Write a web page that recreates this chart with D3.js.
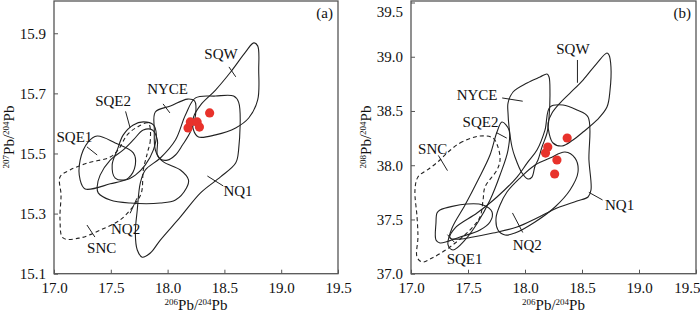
<!DOCTYPE html>
<html>
<head>
<meta charset="utf-8">
<script src="https://cdn.jsdelivr.net/npm/d3@7"></script>
<style>
  body { margin: 0; background: #fff; }
  svg { display: block; font-family: "Liberation Serif", "Times New Roman", serif; }
</style>
</head>
<body>
<svg id="chart" width="700" height="314"></svg>
<script>
// ---- data ----
const xTicks = [17.0, 17.5, 18.0, 18.5, 19.0, 19.5];
const yTicksA = [15.1, 15.3, 15.5, 15.7, 15.9];
const yTicksB = [37.0, 37.5, 38.0, 38.5, 39.0, 39.5];

// samples (red dots): 206Pb/204Pb, 207Pb/204Pb, 208Pb/204Pb
const sample206 = [18.18, 18.20, 18.26, 18.28, 18.37];
const sample207 = [15.585, 15.605, 15.605, 15.588, 15.635];
const sample208 = [38.112, 38.168, 37.919, 38.048, 38.251];

const dashedFields = ['SNC'];

// field outlines, 207Pb/204Pb vs 206Pb/204Pb
const snc207 = [[17.830,15.601],[17.848,15.545],[17.822,15.502],[17.786,15.445],[17.769,15.369],[17.707,15.329],[17.583,15.279],[17.406,15.245],[17.230,15.219],[17.080,15.219],[17.053,15.279],[17.062,15.362],[17.053,15.422],[17.141,15.445],[17.292,15.468],[17.495,15.488],[17.565,15.512],[17.645,15.562],[17.733,15.588]];
const sqe1_207 = [[17.380,15.558],[17.539,15.535],[17.698,15.502],[17.716,15.462],[17.654,15.418],[17.495,15.399],[17.274,15.382],[17.230,15.412],[17.230,15.478],[17.300,15.538]];
const sqe2_207 = [[17.557,15.512],[17.610,15.562],[17.698,15.595],[17.786,15.605],[17.875,15.595],[17.901,15.562],[17.875,15.512],[17.804,15.462],[17.716,15.428],[17.627,15.412],[17.539,15.418],[17.512,15.462]];
const nq2_207 = [[17.380,15.389],[17.406,15.428],[17.495,15.478],[17.610,15.512],[17.698,15.545],[17.786,15.578],[17.866,15.578],[17.910,15.545],[17.910,15.495],[17.963,15.472],[18.113,15.445],[18.184,15.412],[18.166,15.385],[18.069,15.345],[17.936,15.335],[17.671,15.335],[17.495,15.345],[17.389,15.369]];
const nyce207 = [[17.892,15.638],[18.025,15.658],[18.175,15.681],[18.237,15.675],[18.246,15.628],[18.201,15.572],[18.131,15.528],[18.069,15.495],[17.998,15.478],[17.936,15.482],[17.892,15.512],[17.883,15.578]];
const sqw207 = [[18.228,15.621],[18.290,15.661],[18.422,15.711],[18.555,15.771],[18.687,15.838],[18.758,15.868],[18.793,15.858],[18.802,15.778],[18.793,15.678],[18.714,15.618],[18.599,15.585],[18.422,15.562],[18.272,15.555],[18.228,15.578]];
const nq1_207 = [[18.246,15.685],[18.422,15.691],[18.581,15.691],[18.625,15.671],[18.625,15.512],[18.599,15.468],[18.466,15.422],[18.290,15.369],[18.113,15.289],[17.936,15.212],[17.848,15.169],[17.777,15.155],[17.733,15.179],[17.716,15.235],[17.733,15.312],[17.760,15.402],[17.804,15.445],[17.936,15.485],[18.069,15.545],[18.157,15.628]];

// field outlines, 208Pb/204Pb vs 206Pb/204Pb
const snc208 = [[17.316,38.112],[17.430,38.205],[17.605,38.269],[17.719,38.251],[17.763,38.168],[17.781,38.048],[17.754,37.956],[17.649,37.799],[17.632,37.679],[17.605,37.523],[17.518,37.403],[17.342,37.246],[17.184,37.144],[17.096,37.108],[17.053,37.154],[17.061,37.338],[17.053,37.523],[17.035,37.771],[17.061,37.891],[17.167,37.974],[17.254,38.048]];
const sqe1_208 = [[17.254,37.587],[17.491,37.642],[17.632,37.633],[17.711,37.569],[17.693,37.477],[17.605,37.403],[17.430,37.338],[17.254,37.283],[17.219,37.311],[17.219,37.467],[17.228,37.559]];
const sqe2_208 = [[17.798,38.398],[17.860,38.325],[17.851,38.140],[17.781,37.910],[17.693,37.679],[17.588,37.477],[17.474,37.311],[17.368,37.218],[17.325,37.265],[17.360,37.421],[17.474,37.633],[17.588,37.864],[17.693,38.094],[17.754,38.306]];
const nq2_208 = [[17.763,37.403],[17.825,37.357],[17.912,37.375],[18.088,37.477],[18.263,37.615],[18.395,37.771],[18.465,37.937],[18.439,38.066],[18.351,38.122],[18.219,38.066],[18.088,38.002],[17.956,37.882],[17.842,37.753],[17.781,37.633],[17.746,37.513]];
const nyce208 = [[17.851,38.573],[17.895,38.675],[18.018,38.758],[18.132,38.813],[18.193,38.841],[18.211,38.813],[18.219,38.665],[18.211,38.444],[18.193,38.297],[18.149,38.168],[18.114,38.048],[18.088,37.993],[18.061,37.891],[18.026,37.873],[17.974,37.928],[17.912,38.076],[17.886,38.168],[17.860,38.352],[17.851,38.481]];
const sqw208 = [[18.719,39.034],[18.632,38.942],[18.509,38.785],[18.395,38.665],[18.307,38.573],[18.237,38.481],[18.202,38.389],[18.211,38.297],[18.246,38.205],[18.325,38.177],[18.421,38.232],[18.509,38.306],[18.632,38.417],[18.719,38.536],[18.746,38.693],[18.754,38.905],[18.737,39.016]];
const nq1_208 = [[18.219,38.536],[18.333,38.555],[18.456,38.509],[18.553,38.444],[18.561,38.048],[18.579,37.772],[18.553,37.707],[18.456,37.670],[18.281,37.606],[18.105,37.513],[17.930,37.430],[17.719,37.375],[17.544,37.338],[17.430,37.319],[17.342,37.329],[17.386,37.421],[17.579,37.559],[17.754,37.707],[17.930,37.891],[18.018,38.020],[18.105,38.140],[18.175,38.324]];

const fieldNames = ['SNC', 'SQE1', 'SQE2', 'NQ2', 'NYCE', 'SQW', 'NQ1'];
const fields207 = [snc207, sqe1_207, sqe2_207, nq2_207, nyce207, sqw207, nq1_207];
const fields208 = [snc208, sqe1_208, sqe2_208, nq2_208, nyce208, sqw208, nq1_208];

// labels: [name, label x, label y, leader from, leader to] in data units
const labels207 = [
  ['SQW', 18.47, 15.83, [18.54, 15.788], [18.60, 15.755]],
  ['NYCE', 18.00, 15.716, [17.96, 15.665], [18.02, 15.635]],
  ['SQE2', 17.52, 15.675, [17.63, 15.64], [17.67, 15.585]],
  ['SQE1', 17.18, 15.555, [17.29, 15.522], [17.38, 15.495]],
  ['NQ2', 17.63, 15.25, [17.67, 15.301], [17.73, 15.351]],
  ['NQ1', 18.62, 15.375, [18.35, 15.425], [18.49, 15.392]],
  ['SNC', 17.42, 15.185, [17.29, 15.262], [17.36, 15.222]]
];
const labels208 = [
  ['SQW', 18.42, 39.07, [18.46, 38.97], [18.46, 38.76]],
  ['NYCE', 17.58, 38.65, [17.80, 38.62], [17.98, 38.59]],
  ['SQE2', 17.61, 38.40, [17.75, 38.30], [17.84, 38.25]],
  ['SNC', 17.19, 38.15, [17.24, 38.09], [17.32, 37.95]],
  ['NQ1', 18.83, 37.63, [18.56, 37.75], [18.68, 37.68]],
  ['NQ2', 18.02, 37.26, [17.89, 37.56], [17.98, 37.38]],
  ['SQE1', 17.47, 37.14, [17.32, 37.36], [17.38, 37.29]]
];

// ---- drawing ----
const svg = d3.select('#chart');
const axisColor = '#555';
const red = '#e8322b';
const serif = '"Liberation Serif", "Times New Roman", serif';

function drawPanel(opt) {
  const x = d3.scaleLinear().domain([17.0, 19.5]).range([opt.left, opt.right]);
  const y = d3.scaleLinear().domain(opt.yDomain).range([273.7, opt.yTop]);
  const g = svg.append('g');

  const clipId = 'clip-' + opt.tag;
  svg.append('clipPath').attr('id', clipId)
    .append('rect').attr('x', opt.left).attr('y', 1)
    .attr('width', opt.right - opt.left).attr('height', 272.7);

  const line = d3.line().x(d => x(d[0])).y(d => y(d[1]))
    .curve(d3.curveCatmullRomClosed.alpha(0.5));

  const plot = g.append('g').attr('clip-path', `url(#${clipId})`);
  plot.selectAll('path.field')
    .data(opt.fields)
    .join('path')
    .attr('class', 'field')
    .attr('d', d => line(d))
    .attr('fill', 'none')
    .attr('stroke', '#222')
    .attr('stroke-width', 1.1)
    .attr('stroke-dasharray', (d, i) => dashedFields.includes(fieldNames[i]) ? '4,3' : null);

  // label leaders
  plot.selectAll('line.leader')
    .data(opt.labels)
    .join('line')
    .attr('class', 'leader')
    .attr('x1', d => x(d[3][0])).attr('y1', d => y(d[3][1]))
    .attr('x2', d => x(d[4][0])).attr('y2', d => y(d[4][1]))
    .attr('stroke', '#222').attr('stroke-width', 1);

  g.selectAll('text.flabel')
    .data(opt.labels)
    .join('text')
    .attr('class', 'flabel')
    .attr('x', d => x(d[1])).attr('y', d => y(d[2]))
    .attr('text-anchor', 'middle')
    .attr('dominant-baseline', 'central')
    .attr('font-size', 15)
    .attr('fill', '#111')
    .text(d => d[0]);

  // sample dots
  plot.selectAll('circle')
    .data(sample206)
    .join('circle')
    .attr('cx', d => x(d))
    .attr('cy', (d, i) => y(opt.ys[i]))
    .attr('r', 4.6)
    .attr('fill', red);

  // axes (ticks inward)
  const xAxis = d3.axisBottom(x).tickValues(xTicks).tickFormat(d3.format('.1f'))
    .tickSizeInner(-4).tickSizeOuter(0).tickPadding(9);
  const yAxis = d3.axisLeft(y).tickValues(opt.yTicks).tickFormat(d3.format('.1f'))
    .tickSizeInner(-4).tickSizeOuter(0).tickPadding(8);

  const gx = g.append('g').attr('transform', 'translate(0,273.7)').call(xAxis);
  const gy = g.append('g').attr('transform', `translate(${opt.left},0)`).call(yAxis);
  [gx, gy].forEach(a => {
    a.attr('font-family', serif);
    a.select('.domain').remove();
    a.selectAll('line').attr('stroke', axisColor);
    a.selectAll('text').attr('font-size', 15).attr('fill', '#111');
  });
  // keep the edge tick labels inside the picture
  gy.selectAll('.tick text').filter(d => y(d) < 8).attr('dy', '0.9em');
  gx.selectAll('.tick text').filter(d => x(d) > 680)
    .attr('text-anchor', 'end').attr('x', 700 - x(19.5));

  // frame
  g.append('rect')
    .attr('x', opt.left).attr('y', 1)
    .attr('width', opt.right - opt.left).attr('height', 272.7)
    .attr('fill', 'none').attr('stroke', axisColor).attr('stroke-width', 1.3);

  g.append('text')
    .attr('x', opt.right - 5).attr('y', 18)
    .attr('text-anchor', 'end').attr('font-size', 15).attr('fill', '#111')
    .text(opt.tag === 'a' ? '(a)' : '(b)');

  // x title
  const cx = (opt.left + opt.right) / 2;
  const xt = g.append('text').attr('x', cx).attr('y', 310)
    .attr('text-anchor', 'middle').attr('font-size', 15).attr('fill', '#111');
  xt.append('tspan').attr('font-size', 9).attr('dy', -5).text('206');
  xt.append('tspan').attr('dy', 5).text('Pb/');
  xt.append('tspan').attr('font-size', 9).attr('dy', -5).text('204');
  xt.append('tspan').attr('dy', 5).text('Pb');

  // y title
  const yt = g.append('text')
    .attr('transform', `translate(${opt.left - 40},137) rotate(-90)`)
    .attr('text-anchor', 'middle').attr('font-size', 15).attr('fill', '#111');
  yt.append('tspan').attr('font-size', 9).attr('dy', -5).text(opt.yNum);
  yt.append('tspan').attr('dy', 5).text('Pb/');
  yt.append('tspan').attr('font-size', 9).attr('dy', -5).text('204');
  yt.append('tspan').attr('dy', 5).text('Pb');
}

drawPanel({
  tag: 'a', left: 54, right: 338, yDomain: [15.1, 16.0], yTop: 3.2,
  yTicks: yTicksA, fields: fields207, labels: labels207, ys: sample207, yNum: '207'
});
drawPanel({
  tag: 'b', left: 411, right: 696, yDomain: [37.0, 39.5], yTop: 2.5,
  yTicks: yTicksB, fields: fields208, labels: labels208, ys: sample208, yNum: '208'
});
</script>
</body>
</html>
